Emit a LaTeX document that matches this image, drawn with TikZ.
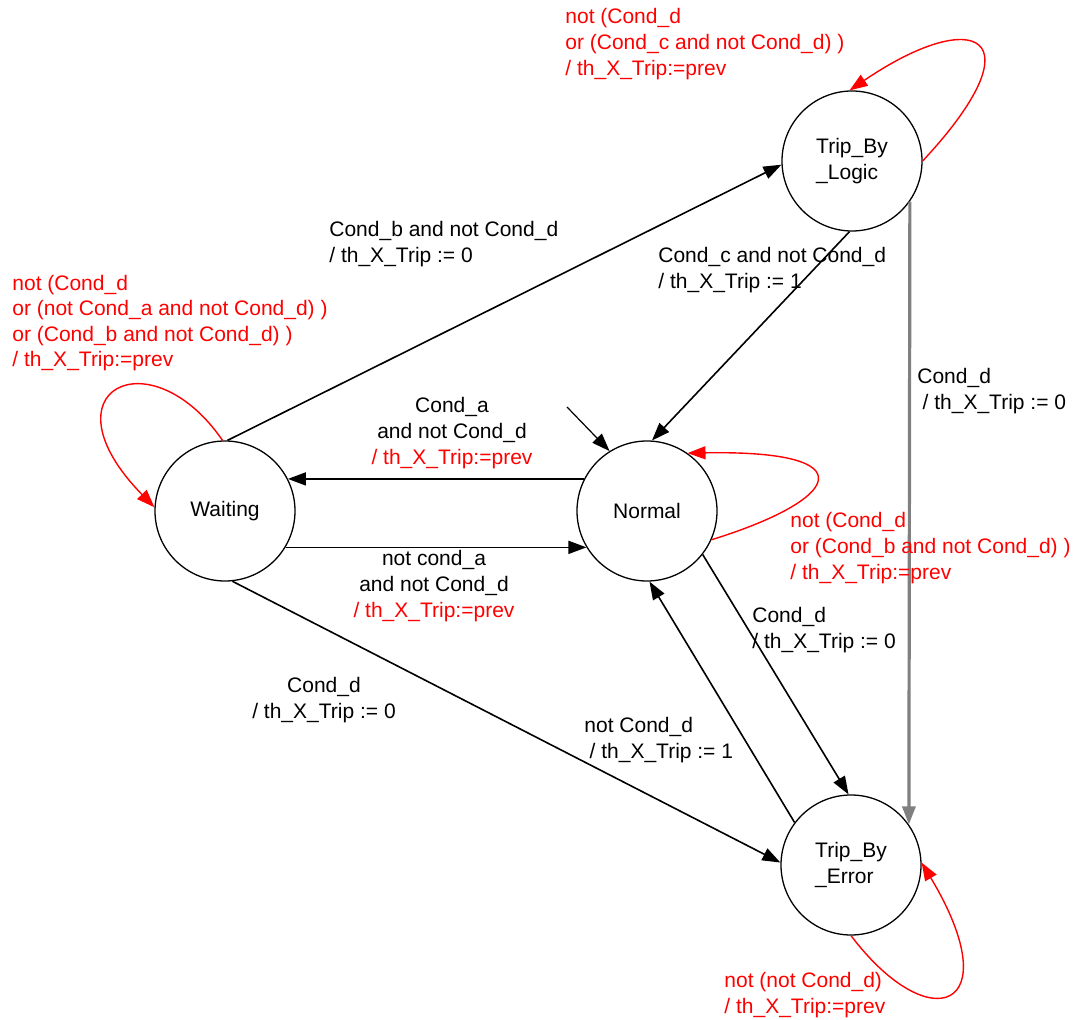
\documentclass[tikz,border=0pt]{standalone}
\usepackage{fontspec}
\setmainfont{Liberation Sans}
\usetikzlibrary{arrows.meta}
\begin{document}
\begin{tikzpicture}[x=0.5pt,y=-0.5pt,>={Triangle[length=9pt,width=6.5pt]},
	font=\fontsize{10.5}{12.8}\selectfont,
	st/.style={circle,draw,line width=0.65pt,minimum size=70pt,inner sep=0pt,align=left},
	tr/.style={->,line width=0.8pt},
	lp/.style={->,line width=0.7pt,red},
	lb/.style={align=left,anchor=west,inner sep=0pt},
	lc/.style={align=center,inner sep=0pt}]
	\useasboundingbox (0,0) rectangle (1076,1020);
	\node[st] (normal) at (647,511) {Normal};
	\node[st] (waiting) at (225,511) {Waiting};
	\node[st] (logic) at (852,161) {Trip\_By\\\_Logic};
	\node[st] (error) at (851,865) {Trip\_By\\\_Error};
	\coordinate (init) at (567,407);
	\draw[tr,line width=0.6pt] (init) -- (normal.122);
	\draw[tr] (waiting.88) -- (logic.183);
	\draw[tr] (logic.268) -- (normal.86);
	\draw[tr,gray,line width=1.6pt] (logic.-35) -- (error.35);
	\draw[tr] (normal.153) -- (waiting.27);
	\draw[tr] (waiting.-31) -- (normal.211);
	\draw[tr] (normal.-38) -- (error.92);
	\draw[tr] (error.143) -- (normal.-88);
	\draw[tr] (waiting.-84) -- (error.178);
	% self loops
	\draw[lp] (waiting.92) .. controls (150,335) and (40,390) .. (waiting.177);
	\draw[lp] (logic.0) .. controls (1040,35) and (975,5) .. (logic.92);
	\draw[lp] (normal.-24) .. controls (840,500) and (870,450) .. (normal.55);
	\draw[lp] (error.-90) .. controls (930,1040) and (1010,1010) .. (error.2);
	\node[lb,red] (llogic) at (565,44) {not (Cond\_d\\or (Cond\_c and not Cond\_d) )\\/ th\_X\_Trip:=prev};
	\node[lb,red] (lwait) at (12,323) {not (Cond\_d\\or (not Cond\_a and not Cond\_d) )\\or (Cond\_b and not Cond\_d) )\\/ th\_X\_Trip:=prev};
	\node[lb] (lwl) at (329,244) {Cond\_b and not Cond\_d\\/ th\_X\_Trip := 0};
	\node[lb] (lln) at (658,270) {Cond\_c and not Cond\_d\\/ th\_X\_Trip := 1};
	\node[lb] (lle) at (917,391) {Cond\_d\\\hspace*{0.25em}/ th\_X\_Trip := 0};
	\node[lc] (lnw) at (452,433) {Cond\_a\\and not Cond\_d\\\textcolor{red}{/ th\_X\_Trip:=prev}};
	\node[lc] (lwn) at (434,586) {not cond\_a\\and not Cond\_d\\\textcolor{red}{/ th\_X\_Trip:=prev}};
	\node[lb,red] (lnn) at (790,548) {not (Cond\_d\\or (Cond\_b and not Cond\_d) )\\/ th\_X\_Trip:=prev};
	\node[lb] (lne) at (752,630) {Cond\_d\\/ th\_X\_Trip := 0};
	\node[lc] (lwe) at (324,700) {Cond\_d\\/ th\_X\_Trip := 0};
	\node[lb] (len) at (584,740) {not Cond\_d\\\hspace*{0.25em}/ th\_X\_Trip := 1};
	\node[lb,red] (lee) at (724,995) {not (not Cond\_d)\\/ th\_X\_Trip:=prev};
\end{tikzpicture}
\end{document}
